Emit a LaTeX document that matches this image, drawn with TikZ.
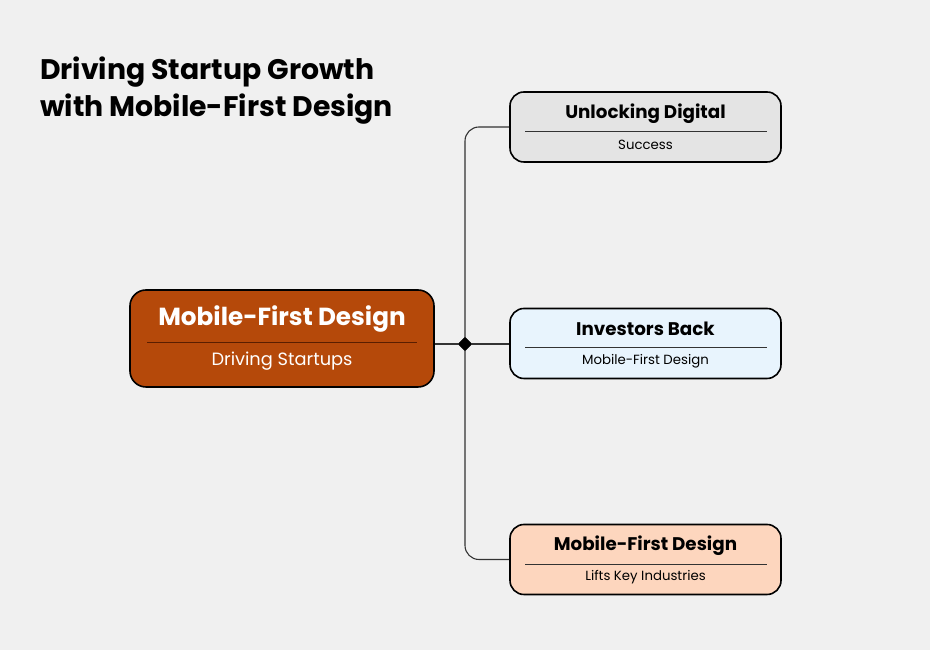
\documentclass[tikz,border=0pt]{standalone}
\usepackage{fontspec}
\setmainfont{Poppins}
\usepackage{tikz}
\usetikzlibrary{shapes.geometric}
\definecolor{bgpanel}{HTML}{F0F0F0}
\definecolor{rootfill}{HTML}{B5490A}
\definecolor{rootrule}{HTML}{5A1E00}
\definecolor{greyfill}{HTML}{E4E4E4}
\definecolor{bluefill}{HTML}{E8F4FD}
\definecolor{peachfill}{HTML}{FDD6BE}
\definecolor{wire}{HTML}{333333}

\begin{document}
\begin{tikzpicture}[x=1pt,y=1pt]
			\tikzstyle{card} = [draw=black, line width=1.6pt, rounded corners=14pt, minimum width=271pt, minimum height=70pt, inner sep=0pt]
			\tikzstyle{head} = [font=\fontsize{18.3}{20}\selectfont\bfseries, text=black, inner sep=0pt]
			\tikzstyle{sub} = [font=\fontsize{13.3}{15}\selectfont, text=black, inner sep=0pt]
			\tikzstyle{wire} = [draw=wire, line width=1.1pt]
			\tikzstyle{banner} = [anchor=base west, inner sep=0pt, font=\fontsize{28.3}{34}\selectfont\bfseries]

			\fill [bgpanel] (0,0) rectangle (930,650);
			\useasboundingbox (0,0) rectangle (930,650);

			\node [banner] (heading1) at (40,570) {Driving Startup Growth};
			\node [banner] (heading2) at (40,533) {with Mobile-First Design};

			\node [card, fill=rootfill, minimum width=304pt, minimum height=97pt, rounded corners=16pt] (root) at (282,311.5) {};
			\node [head, text=white, font=\fontsize{24.7}{27}\selectfont\bfseries] (roottitle) at (282,330.5) {Mobile-First Design};
			\node [sub, text=white, font=\fontsize{17.8}{20}\selectfont] (rootsub) at (282,288.5) {Driving Startups};
			\draw [rootrule, line width=1pt] (147,307) -- (417,307);

			\node [card, fill=greyfill] (b1) at (645.5,523) {};
			\node [head] (b1title) at (645.5,536.5) {Unlocking Digital};
			\node [sub] (b1sub) at (645.5,505.5) {Success};
			\draw [wire, line width=0.8pt] (525,519) -- (767,519);

			\node [card, fill=bluefill] (b2) at (645.5,306.5) {};
			\node [head] (b2title) at (645.5,321) {Investors Back};
			\node [sub] (b2sub) at (645.5,288.5) {Mobile-First Design};
			\draw [wire, line width=0.8pt] (525,303) -- (767,303);

			\node [card, fill=peachfill] (b3) at (645.5,90.5) {};
			\node [head] (b3title) at (645.5,104) {Mobile-First Design};
			\node [sub] (b3sub) at (645.5,72.5) {Lifts Key Industries};
			\draw [wire, line width=0.8pt] (525,86) -- (767,86);

			\node [draw=black, fill=black, diamond, minimum size=14pt, inner sep=0pt] (hub) at (465,306) {};

			\draw [wire] (root.east |- hub) -- (hub);
			\draw [wire] (hub) -- (b2.west |- hub);
			\draw [wire, rounded corners=14pt] (hub.north) |- (b1.west);
			\draw [wire, rounded corners=14pt] (hub.south) |- (b3.west);

		\end{tikzpicture}
\end{document}
